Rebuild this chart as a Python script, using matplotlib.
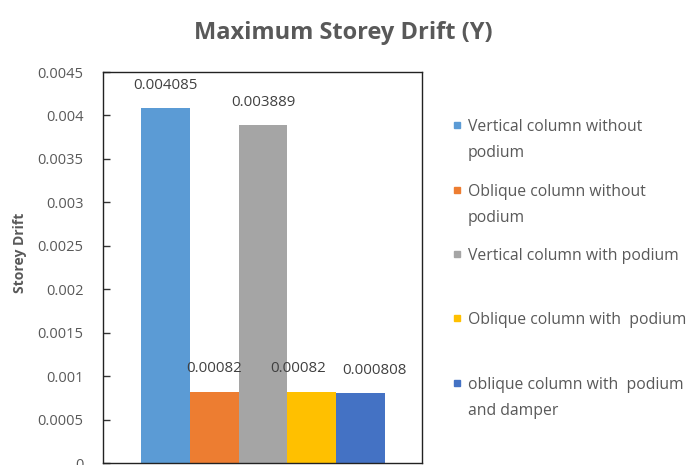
import matplotlib
matplotlib.use("Agg")
import matplotlib.pyplot as plt
from matplotlib.patches import Rectangle

series_labels = [
    "Vertical column without\npodium",
    "Oblique column without\npodium",
    "Vertical column with podium",
    "Oblique column with  podium",
    "oblique column with  podium\nand damper",
]
drift_values = [0.004085, 0.00082, 0.003889, 0.00082, 0.000808]
value_texts = ["0.004085", "0.00082", "0.003889", "0.00082", "0.000808"]
bar_colors = ["#5B9BD5", "#ED7D31", "#A5A5A5", "#FFC000", "#4472C4"]
y_ticks = [0, 0.0005, 0.001, 0.0015, 0.002, 0.0025, 0.003, 0.0035, 0.004, 0.0045]
y_tick_labels = ["0", "0.0005", "0.001", "0.0015", "0.002", "0.0025",
                 "0.003", "0.0035", "0.004", "0.0045"]

plt.rcParams["font.family"] = ["Open Sans", "DejaVu Sans"]
TXT = "#595959"

W, H = 696, 465
fig = plt.figure(figsize=(W / 100, H / 100), dpi=100)
ax = fig.add_axes([103 / W, 2 / H, 319 / W, 391 / H])

xs = list(range(len(drift_values)))
bars = ax.bar(xs, drift_values, width=1.0, color=bar_colors, zorder=2)

# horizontal nudges (points) keep the three small-bar labels from colliding
label_dx = [0, 0, 0, -10, 10]
for x, v, t, dx in zip(xs, drift_values, value_texts, label_dx):
    ax.annotate(t, (x, v), xytext=(dx, 11), textcoords="offset points",
                ha="center", va="bottom", fontsize=10.8, color="#404040")

ax.set_xlim(-1.28, 5.26)
ax.set_ylim(0, 0.0045)
ax.set_yticks(y_ticks)
ax.set_yticklabels(y_tick_labels, fontsize=10.5, color=TXT)
ax.set_xticks([])
ax.tick_params(axis="y", direction="in", length=5, width=1, color="#333333", pad=14)
for s in ax.spines.values():
    s.set_color("#222222")
    s.set_linewidth(1.0)

fig.text(343 / W, 1 - 33 / H, "Maximum Storey Drift (Y)", ha="center", va="center",
         fontsize=17, fontweight="bold", color=TXT)
fig.text(20 / W, 1 - 253 / H, "Storey Drift", rotation=90, ha="center", va="center",
         fontsize=10, fontweight="bold", color=TXT)

# legend entries: small colour square beside the first line of each label
entry_tops = [125, 190, 254, 318, 383]
line_gap = 25.5
for top, lab, c in zip(entry_tops, series_labels, bar_colors):
    fig.patches.append(Rectangle((454 / W, 1 - (top + 3) / H), 6 / W, 6 / H,
                                 transform=fig.transFigure, color=c))
    for i, line in enumerate(lab.split("\n")):
        fig.text(468 / W, 1 - (top + i * line_gap) / H, line, ha="left",
                 va="center_baseline", fontsize=11.3, color=TXT)

fig.savefig("out.png", dpi=100)
